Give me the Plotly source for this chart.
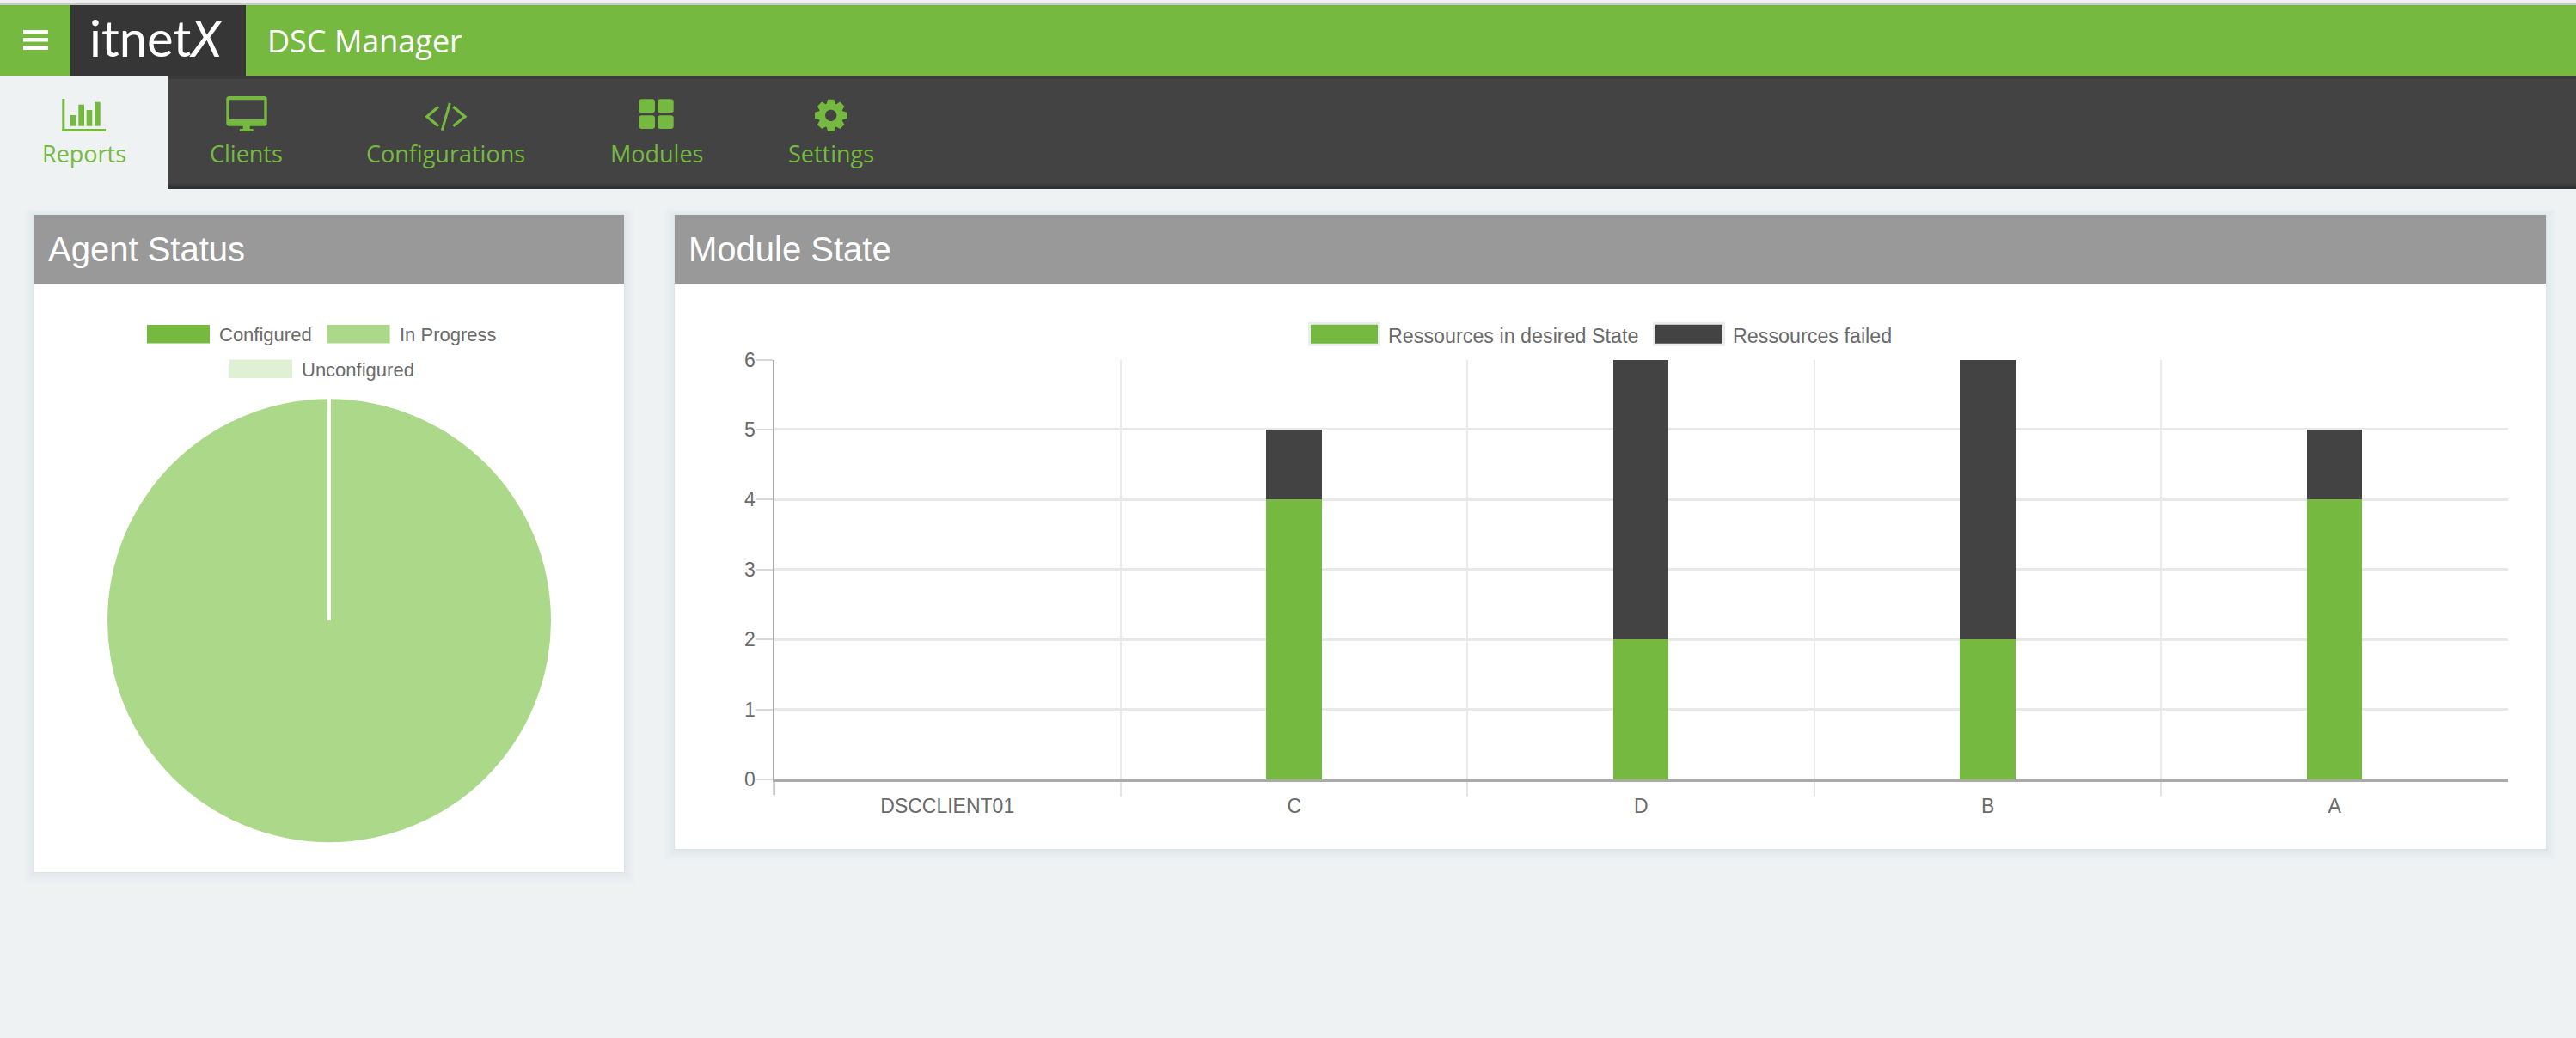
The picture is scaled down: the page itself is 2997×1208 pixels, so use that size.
import math
import plotly.graph_objects as go

W = 2997
H = 1208

# chart data
agent_labels = ['Configured', 'In Progress', 'Unconfigured']
agent_values = [0, 1, 0]
agent_colors = ['#76b941', '#acd88a', '#e0f0d4']

modules = ['DSCCLIENT01', 'C', 'D', 'B', 'A']
res_ok = [0, 4, 2, 2, 4]
res_failed = [0, 1, 4, 4, 1]
series_names = ['Ressources in desired State', 'Ressources failed']
y_ticks = [0, 1, 2, 3, 4, 5, 6]

nav_labels = ['Reports', 'Clients', 'Configurations', 'Modules', 'Settings']
nav_centers = [98, 286.6, 518.5, 763.6, 966.6]

GREEN = '#76b941'
DARK = '#434343'
PAGE = '#eef2f3'
HEAD = '#999999'
TXT = '#6b6b6b'
CHART_FONT = 'Liberation Sans'
UI_FONT = 'Open Sans'


def px(x):
    return x / W


def py(y):
    return 1 - y / H


shapes = []
annotations = []


def rect(x0, y0, x1, y1, color, layer='below', border=None, bw=0):
    shapes.append(dict(type='rect', xref='paper', yref='paper', layer=layer,
                       x0=px(x0), y0=py(y0), x1=px(x1), y1=py(y1), fillcolor=color,
                       line=dict(color=border or color, width=bw)))


def poly(points, color=None, stroke=None, sw=0, close=True, layer='above'):
    d = 'M' + ' L'.join('%.6f,%.6f' % (px(a), py(b)) for a, b in points)
    if close:
        d += ' Z'
    shapes.append(dict(type='path', xref='paper', yref='paper', layer=layer, path=d,
                       fillcolor=color if color else 'rgba(0,0,0,0)',
                       line=dict(color=stroke if stroke else 'rgba(0,0,0,0)', width=sw)))


def rounded(x0, y0, x1, y1, r, color):
    pts = []
    corners = [(x1 - r, y0 + r, -90), (x1 - r, y1 - r, 0), (x0 + r, y1 - r, 90), (x0 + r, y0 + r, 180)]
    for cx, cy, start in corners:
        for k in range(5):
            a = math.radians(start + k * 22.5)
            pts.append((cx + r * math.cos(a), cy + r * math.sin(a)))
    poly(pts, color)


def text(x, y, s, size, color, font=CHART_FONT, anchor='left'):
    annotations.append(dict(xref='paper', yref='paper', x=px(x), y=py(y), text=s, showarrow=False,
                            xanchor=anchor, yanchor='middle', borderpad=0, borderwidth=0,
                            font=dict(family=font, size=size, color=color)))


def card(x0, y0, x1, y1, head_bottom):
    # soft shadow, a bit stronger under the card
    for i, a in ((12, 0.012), (9, 0.016), (6, 0.02), (3, 0.025), (1, 0.03)):
        rect(x0 - i, y0 - i * 0.6, x1 + i, y1 + i * 1.1, 'rgba(90,115,130,%s)' % a)
    rect(x0, y0, x1, y1, '#ffffff')
    rect(x0, y0, x1, head_bottom, HEAD)


# page chrome
rect(0, 0, W, 4, '#f0f0f0')
rect(0, 4, W, 6, '#c8c8c8')
rect(0, 6, W, 88, GREEN)
rect(82, 6, 286, 88, '#363636')
for b0, b1 in ((35, 39.5), (44, 48.5), (53, 58)):
    rect(27, b0, 56, b1, '#ffffff', layer='above')
rect(195, 88, W, 220, DARK)
rect(195, 88, W, 92, '#3a3a3a')
rect(195, 214, W, 217, '#3b3b3b')
rect(195, 217, W, 220, '#313131')

text(311, 48, 'DSC Manager', 36, '#ffffff', UI_FONT)
text(104, 44, 'itnet<i>X</i>', 58, '#ffffff', 'Lato')

for label, cx in zip(nav_labels, nav_centers):
    text(cx, 178, label, 27, GREEN, UI_FONT, 'center')

# reports icon
rect(72.3, 115, 75.3, 153, GREEN, 'above')
rect(72.3, 150, 123, 153, GREEN, 'above')
rect(82, 134, 88.3, 146.7, GREEN, 'above')
rect(91.3, 121.7, 98, 146.7, GREEN, 'above')
rect(100.7, 128, 107.3, 146.7, GREEN, 'above')
rect(110.3, 118.7, 116.7, 146.7, GREEN, 'above')
# clients icon
rounded(263.3, 112, 310.7, 146.7, 3, GREEN)
rect(266.7, 116.3, 307.3, 139, DARK, 'above')
rect(282.7, 146, 290.7, 150.5, GREEN, 'above')
rounded(278.7, 150, 294.7, 153, 1, GREEN)
# configurations icon
poly([(510, 124.3), (496.7, 135.7), (510, 146.7)], stroke=GREEN, sw=3.2, close=False)
poly([(527.3, 124.3), (541, 135.7), (527.3, 146.7)], stroke=GREEN, sw=3.2, close=False)
poly([(523.3, 120), (514.3, 151.7)], stroke=GREEN, sw=3, close=False)
# modules icon
rounded(743.3, 115.3, 762, 131.3, 3, GREEN)
rounded(765, 115.3, 783.7, 131.3, 3, GREEN)
rounded(743.3, 134.3, 762, 150, 3, GREEN)
rounded(765, 134.3, 783.7, 150, 3, GREEN)
# settings icon
gear = []
for t in range(8):
    a = math.radians(t * 45 - 90)
    for da, r in ((-20, 14.5), (-11, 19), (11, 19), (20, 14.5)):
        ang = a + math.radians(da)
        gear.append((966.7 + r * math.cos(ang), 134.3 + r * math.sin(ang)))
poly(gear, GREEN)
poly([(966.7 + 6.7 * math.cos(math.radians(k * 20)), 134.3 + 6.7 * math.sin(math.radians(k * 20)))
      for k in range(18)], DARK)

# cards
card(40, 250, 726, 1015, 330)
card(785, 250, 2962, 988, 330)
text(56, 290, 'Agent Status', 40, '#ffffff')
text(801, 290, 'Module State', 40, '#ffffff')

# pie legend
pie_legend = [(171, 378, 255), (380.6, 378, 465), (267, 418.6, 351)]
for label, color, (sx, sy, tx) in zip(agent_labels, agent_colors, pie_legend):
    rect(sx, sy, sx + 73, sy + 21.5, color)
    text(tx, sy + 12, label, 22, TXT)
# seam left by the single full slice
shapes.append(dict(type='line', xref='paper', yref='paper', layer='above',
                   x0=px(383), x1=px(383), y0=py(464), y1=py(722),
                   line=dict(color='#ffffff', width=4)))

# bar legend
bar_legend = [(1523.5, 1604.5, 1615, GREEN), (1924.5, 2005.5, 2015.5, DARK)]
for name, (s0, s1, tx, color) in zip(series_names, bar_legend):
    rect(s0, 376.2, s1, 401.3, color, border='#ececec', bw=3)
    text(tx, 390.5, name, 23.3, TXT)

# left axis line runs on below the zero line
shapes.append(dict(type='line', xref='paper', yref='paper', layer='above',
                   x0=px(900.5), x1=px(900.5), y0=py(907), y1=py(925),
                   line=dict(color='#aaaaaa', width=2)))

fig = go.Figure()
fig.add_trace(go.Pie(labels=agent_labels, values=agent_values, sort=False, direction='clockwise',
                     marker=dict(colors=agent_colors, line=dict(width=0)), textinfo='none',
                     showlegend=False, hoverinfo='label+value',
                     domain=dict(x=[px(125), px(641)], y=[py(980.5), py(464)])))
fig.add_trace(go.Bar(x=modules, y=res_ok, name=series_names[0], marker=dict(color=GREEN, line=dict(width=0)),
                     width=0.16, showlegend=False))
fig.add_trace(go.Bar(x=modules, y=res_failed, name=series_names[1], marker=dict(color=DARK, line=dict(width=0)),
                     width=0.16, showlegend=False))

fig.update_layout(
    width=W, height=H, margin=dict(l=0, r=0, t=0, b=0, pad=0, autoexpand=False), autosize=False,
    paper_bgcolor=PAGE, plot_bgcolor='rgba(0,0,0,0)', barmode='stack',
    font=dict(family=CHART_FONT, size=23, color=TXT), shapes=shapes, annotations=annotations,
    xaxis=dict(domain=[px(900.5), px(2917.5)], type='category', categoryorder='array', categoryarray=modules,
               range=[-0.5, 4.499], tickson='boundaries', ticks='outside', ticklen=17, tickwidth=2,
               tickcolor='#e6e6e6', showgrid=True, gridcolor='#ebebeb', gridwidth=2, showline=True,
               linecolor='#aaaaaa', linewidth=3, zeroline=False, ticklabelstandoff=8,
               tickfont=dict(size=23, color=TXT)),
    yaxis=dict(domain=[py(907), py(418.5)], range=[0, 6], tickvals=y_ticks, ticks='outside', ticklen=20,
               tickwidth=2, tickcolor='#d8d8d8', showgrid=True, gridcolor='#e8e8e8', gridwidth=3, showline=True,
               linecolor='#aaaaaa', linewidth=2, zeroline=False, ticklabelstandoff=-5,
               tickfont=dict(size=23, color=TXT)),
)

fig.write_html('out.html', config={'displayModeBar': False},
               post_script="document.body.style.margin='0';document.body.style.overflow='hidden';")
